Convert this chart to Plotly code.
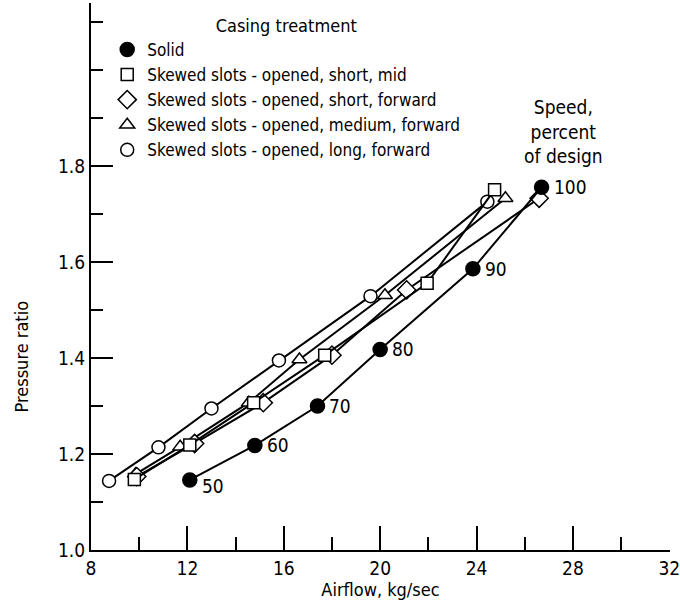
import plotly.graph_objects as go

# ---- data ----
speeds = [50, 60, 70, 80, 90, 100]

solid_x = [12.1, 14.8, 17.4, 20.0, 23.85, 26.7]
solid_y = [1.146, 1.218, 1.300, 1.418, 1.586, 1.756]

short_mid_x = [9.8, 12.1, 14.75, 17.7, 21.95, 24.75]
short_mid_y = [1.147, 1.219, 1.307, 1.406, 1.556, 1.751]

short_fwd_x = [9.9, 12.3, 15.15, 18.0, 21.1, 26.6]
short_fwd_y = [1.153, 1.222, 1.307, 1.406, 1.542, 1.733]

medium_fwd_x = [9.85, 11.7, 14.55, 16.65, 20.2, 25.2]
medium_fwd_y = [1.158, 1.215, 1.307, 1.397, 1.531, 1.733]

long_fwd_x = [8.75, 10.8, 13.0, 15.8, 19.6, 24.45]
long_fwd_y = [1.144, 1.214, 1.295, 1.395, 1.529, 1.726]

series_names = [
    "Solid",
    "Skewed slots - opened, short, mid",
    "Skewed slots - opened, short, forward",
    "Skewed slots - opened, medium, forward",
    "Skewed slots - opened, long, forward",
]
x_tick_vals = [8, 12, 16, 20, 24, 28, 32]
y_tick_vals = [1.0, 1.2, 1.4, 1.6, 1.8]

FONT = "DejaVu Sans Condensed, Liberation Sans Narrow, sans-serif"

series = [
    (solid_x, solid_y, "circle", "black", 14),
    (short_mid_x, short_mid_y, "square", "white", 12),
    (short_fwd_x, short_fwd_y, "diamond", "white", 14),
    (medium_fwd_x, medium_fwd_y, "triangle-up", "white", 13),
    (long_fwd_x, long_fwd_y, "circle", "white", 13),
]

fig = go.Figure()

# data traces (lines + markers), drawn back to front
for (xs, ys, sym, fill, size), name in zip(series[::-1], series_names[::-1]):
    fig.add_trace(go.Scatter(
        x=xs, y=ys, mode="lines+markers", showlegend=False,
        line=dict(color="black", width=2),
        marker=dict(symbol=sym, size=size, color=fill,
                    line=dict(color="black", width=1.5)),
        name=name,
    ))

# legend-only traces (markers only)
for (xs, ys, sym, fill, size), name in zip(series, series_names):
    fig.add_trace(go.Scatter(
        x=[None], y=[None], mode="markers", name=name,
        marker=dict(symbol=sym, size=size, color=fill,
                    line=dict(color="black", width=1.5)),
    ))

# speed labels next to solid points
for xv, yv, s in zip(solid_x, solid_y, speeds):
    fig.add_annotation(x=xv, y=yv, text=str(s), showarrow=False,
                       xanchor="left", yanchor="middle", xshift=10,
                       yshift=-6 if s == 50 else 0,
                       font=dict(family=FONT, size=19, color="black"))

fig.add_annotation(x=27.6, y=1.872, text="Speed,<br>percent<br>of design",
                   showarrow=False, xanchor="center", yanchor="middle",
                   font=dict(family=FONT, size=19, color="black"))

# y-axis title placed as in the reference (lower than plot centre)
fig.add_annotation(xref="paper", yref="paper", x=-0.12, y=0.353,
                   text="Pressure ratio", textangle=-90, showarrow=False,
                   xanchor="center", yanchor="middle",
                   font=dict(family=FONT, size=18, color="black"))

fig.update_layout(
    width=680, height=600,
    margin=dict(l=91, r=10, t=3, b=50),
    paper_bgcolor="white", plot_bgcolor="white",
    font=dict(family=FONT, size=18, color="black"),
    legend=dict(
        x=0.028, y=0.99, xanchor="left", yanchor="top",
        bgcolor="rgba(0,0,0,0)",
        title=dict(text="Casing treatment", side="top center",
                   font=dict(family=FONT, size=18)),
        font=dict(family=FONT, size=17),
        tracegroupgap=0,
    ),
)

fig.update_xaxes(
    range=[8, 32.03], tickvals=x_tick_vals, ticktext=[str(v) for v in x_tick_vals],
    showgrid=False, zeroline=False, showline=True, linecolor="black", linewidth=2,
    ticks="inside", ticklen=24, tickwidth=2, tickcolor="black",
    minor=dict(dtick=2, tick0=8, ticks="inside", ticklen=13, tickwidth=2, tickcolor="black"),
    title=dict(text="Airflow, kg/sec", font=dict(family=FONT, size=18), standoff=4),
    tickfont=dict(family=FONT, size=19),
    ticklabeloverflow="allow", automargin=False,
)
fig.update_yaxes(
    range=[1.0, 2.14], tickvals=y_tick_vals, ticktext=["%.1f" % v for v in y_tick_vals],
    showgrid=False, zeroline=False, showline=True, linecolor="black", linewidth=2,
    ticks="inside", ticklen=22, tickwidth=2, tickcolor="black",
    minor=dict(dtick=0.1, tick0=1.0, ticks="inside", ticklen=12, tickwidth=2, tickcolor="black"),
    tickfont=dict(family=FONT, size=19), automargin=False,
)

fig.write_html("out.html")
